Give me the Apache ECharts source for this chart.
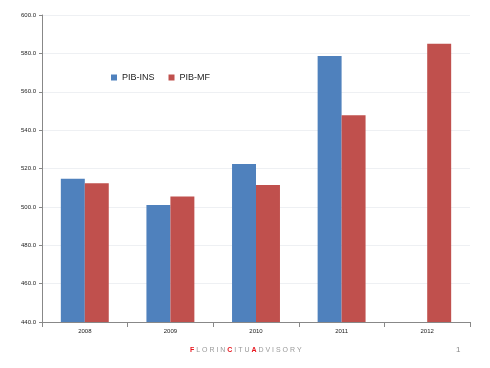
<!DOCTYPE html>
<html><head><meta charset="utf-8">
<script src="https://cdn.jsdelivr.net/npm/echarts@6/dist/echarts.min.js"></script>
<style>html,body{margin:0;padding:0;background:#fff}#c{width:490px;height:368px}</style>
</head><body><div id="c"></div>
<script>
const categories = ['2008','2009','2010','2011','2012'];
const pibIns = [514.6, 501.0, 522.4, 578.6, null];
const pibMf = [512.3, 505.4, 511.4, 547.7, 585.0];
const seriesNames = ['PIB-INS','PIB-MF'];

const chart = echarts.init(document.getElementById('c'));
chart.setOption({
  animation:false,
  backgroundColor:'#fff',
  grid:{left:42,top:15,right:20,bottom:46},
  legend:{
    left:106, top:68, itemWidth:6, itemHeight:6, itemGap:14, icon:'rect',
    textStyle:{fontSize:9, color:'#222', fontFamily:'Liberation Sans'},
    data:seriesNames
  },
  xAxis:{
    type:'category', data:categories,
    axisLine:{lineStyle:{color:'#888'}},
    axisTick:{show:true, alignWithLabel:false, lineStyle:{color:'#888'}},
    axisLabel:{fontSize:6, color:'#222', margin:6, fontFamily:'Liberation Sans'}
  },
  yAxis:{
    type:'value', min:440, max:600, interval:20,
    axisLine:{show:true, lineStyle:{color:'#888'}},
    axisTick:{show:true, length:3, lineStyle:{color:'#888'}},
    splitLine:{lineStyle:{color:'#eef0f3'}},
    axisLabel:{fontSize:6, color:'#222', margin:6, fontFamily:'Liberation Sans',
      formatter:v=>v.toFixed(1)}
  },
  series:[
    {name:seriesNames[0], type:'bar', data:pibIns, barGap:'0%', barCategoryGap:'44%',
      itemStyle:{color:'#4f81bd'}},
    {name:seriesNames[1], type:'bar', data:pibMf, barGap:'0%', barCategoryGap:'44%',
      itemStyle:{color:'#c0504d'}}
  ],
  graphic:[
    {type:'text', left:190, top:347, style:{
      text:'{r|F} L O R I N {r|C} I T U {r|A} D V I S O R Y',
      font:'7px "Liberation Sans"', fill:'#999',
      rich:{r:{fill:'#e8141c', fontSize:7, fontWeight:'bold'}}
    }},
    {type:'text', left:456, top:346, style:{text:'1', font:'8px "Liberation Sans"', fill:'#888'}}
  ]
});
</script></body></html>
